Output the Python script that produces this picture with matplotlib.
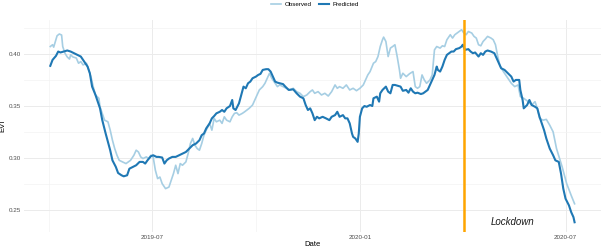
import numpy as np
import pandas as pd
import matplotlib
matplotlib.use("Agg")
import matplotlib.pyplot as plt
import matplotlib.dates as mdates
from matplotlib.ticker import MultipleLocator

plt.rcParams['font.family'] = ['Liberation Sans', 'DejaVu Sans']

START = "2019-04-01"
LOCKDOWN = "2020-04-02"

# days since START, EVI values
obs_day = [1, 3, 4, 7, 9, 11, 12, 14, 16, 18, 19, 21, 24, 26, 28, 30, 33, 35, 37, 39,
           41, 44, 45, 47, 49, 52, 54, 56, 58, 60, 62, 65, 68, 70, 72, 75, 77, 79, 81, 83,
           86, 88, 90, 92, 94, 96, 98, 100, 103, 106, 108, 110, 112, 114, 116, 118, 121, 123, 125, 127,
           129, 131, 133, 135, 137, 139, 142, 144, 146, 148, 151, 153, 155, 157, 160, 162, 164, 166, 168, 171,
           173, 175, 177, 180, 182, 184, 186, 189, 191, 193, 195, 197, 200, 202, 204, 207, 210, 213, 216, 219,
           222, 225, 228, 231, 233, 235, 238, 241, 244, 247, 250, 253, 255, 257, 260, 263, 266, 269, 272, 275,
           278, 280, 282, 284, 287, 289, 291, 293, 295, 296, 298, 300, 302, 304, 306, 308, 310, 311, 313, 316,
           319, 322, 324, 326, 328, 330, 332, 334, 337, 339, 341, 343, 346, 348, 350, 352, 355, 357, 359, 361,
           363, 365, 367, 369, 371, 374, 376, 378, 380, 382, 384, 386, 388, 391, 393, 395, 397, 399, 402, 404,
           406, 409, 412, 415, 417, 420, 422, 424, 427, 430, 432, 434, 437, 440, 443, 446, 449, 454, 458, 462,
           465]
obs_evi = [0.407, 0.4087, 0.4064, 0.4173, 0.419, 0.418, 0.407, 0.4006, 0.397, 0.395, 0.399, 0.397, 0.396, 0.391, 0.3926, 0.3894, 0.391, 0.3846, 0.378, 0.3686,
           0.3606, 0.3574, 0.3493, 0.343, 0.3365, 0.3349, 0.327, 0.3173, 0.3093, 0.3029, 0.298, 0.2964, 0.2949, 0.2964, 0.298, 0.3029, 0.3077, 0.306, 0.3013, 0.2997,
           0.3013, 0.2997, 0.3029, 0.3013, 0.2885, 0.2805, 0.282, 0.2757, 0.2709, 0.2724, 0.2788, 0.2853, 0.2933, 0.2853, 0.2949, 0.2933, 0.2965, 0.3045, 0.3141, 0.319,
           0.3125, 0.3093, 0.3077, 0.3141, 0.3221, 0.3269, 0.3334, 0.3269, 0.3382, 0.3349, 0.3365, 0.3334, 0.3397, 0.3365, 0.3349, 0.3397, 0.343, 0.3436, 0.3413, 0.343,
           0.3445, 0.3462, 0.3478, 0.351, 0.3558, 0.3606, 0.3654, 0.3686, 0.3718, 0.3766, 0.3814, 0.3766, 0.3718, 0.3686, 0.3702, 0.3686, 0.367, 0.3654, 0.367, 0.3638,
           0.3622, 0.359, 0.3606, 0.3638, 0.3654, 0.3622, 0.3638, 0.3606, 0.3622, 0.3596, 0.3638, 0.3702, 0.367, 0.3686, 0.367, 0.3702, 0.3654, 0.367, 0.3647, 0.367,
           0.3702, 0.375, 0.3798, 0.383, 0.391, 0.3926, 0.3974, 0.407, 0.4135, 0.416, 0.4118, 0.3974, 0.4055, 0.407, 0.4087, 0.3974, 0.3846, 0.3766, 0.3814, 0.3782,
           0.381, 0.383, 0.3686, 0.367, 0.3686, 0.3798, 0.375, 0.3718, 0.375, 0.3798, 0.4038, 0.407, 0.4055, 0.4077, 0.407, 0.4135, 0.4183, 0.4151, 0.4183, 0.4199,
           0.4214, 0.4231, 0.4199, 0.4183, 0.4214, 0.4199, 0.4167, 0.4151, 0.4087, 0.4077, 0.4118, 0.4141, 0.4167, 0.4151, 0.4135, 0.4087, 0.3974, 0.3885, 0.383, 0.3798,
           0.3766, 0.3718, 0.3686, 0.3702, 0.359, 0.3574, 0.3558, 0.3542, 0.351, 0.3542, 0.3478, 0.3382, 0.3365, 0.3372, 0.3317, 0.3253, 0.3093, 0.2917, 0.2757, 0.2644,
           0.2564]

pred_day = [1, 3, 6, 8, 10, 13, 16, 19, 22, 25, 28, 31, 34, 36, 38, 41, 43, 45, 47, 50,
            52, 54, 56, 59, 61, 64, 66, 69, 71, 74, 77, 80, 83, 85, 87, 90, 92, 95, 97, 100,
            102, 104, 106, 109, 112, 115, 118, 121, 124, 127, 130, 133, 135, 137, 139, 142, 144, 146, 148, 151,
            153, 155, 157, 160, 162, 163, 165, 168, 170, 172, 174, 176, 178, 180, 183, 185, 187, 189, 192, 194,
            196, 198, 200, 202, 204, 207, 209, 212, 216, 219, 222, 225, 227, 229, 231, 233, 235, 237, 239, 242,
            245, 248, 250, 253, 255, 257, 260, 262, 264, 266, 268, 269, 271, 273, 274, 275, 277, 279, 281, 284,
            286, 287, 290, 292, 293, 295, 298, 300, 302, 304, 306, 309, 311, 313, 316, 318, 320, 322, 324, 326,
            329, 331, 333, 335, 337, 339, 341, 343, 344, 346, 348, 350, 352, 354, 356, 358, 360, 363, 365, 366,
            368, 371, 373, 375, 377, 380, 382, 384, 386, 388, 391, 394, 396, 398, 400, 403, 406, 409, 411, 413,
            416, 417, 419, 420, 423, 425, 427, 430, 432, 434, 436, 438, 440, 443, 446, 448, 451, 453, 455, 457,
            460, 462, 464, 465]
pred_evi = [0.3885, 0.3942, 0.398, 0.4022, 0.4013, 0.4022, 0.4032, 0.4022, 0.4006, 0.399, 0.3974, 0.3926, 0.3878, 0.3814, 0.3686, 0.3606, 0.3542, 0.3478, 0.3365, 0.3237,
            0.3157, 0.3077, 0.298, 0.2917, 0.2859, 0.2837, 0.2827, 0.2837, 0.29, 0.2917, 0.2933, 0.2965, 0.2965, 0.2949, 0.298, 0.3019, 0.3029, 0.3013, 0.3013, 0.3007,
            0.2949, 0.298, 0.2997, 0.3013, 0.3013, 0.3029, 0.3045, 0.306, 0.3093, 0.3125, 0.3141, 0.3173, 0.3221, 0.3237, 0.3286, 0.3334, 0.3382, 0.3404, 0.343, 0.3445,
            0.3462, 0.3445, 0.3478, 0.35, 0.3558, 0.3478, 0.3462, 0.3526, 0.3606, 0.3686, 0.367, 0.3718, 0.3734, 0.3766, 0.3782, 0.3798, 0.3808, 0.3846, 0.3853, 0.3853,
            0.383, 0.3782, 0.3734, 0.3724, 0.3718, 0.371, 0.3686, 0.3654, 0.366, 0.3622, 0.359, 0.3574, 0.351, 0.3462, 0.3478, 0.343, 0.3365, 0.3397, 0.3382, 0.3397,
            0.3382, 0.3365, 0.3397, 0.3413, 0.3445, 0.3397, 0.3413, 0.3382, 0.3382, 0.3334, 0.3237, 0.3205, 0.3189, 0.3157, 0.3237, 0.3397, 0.3478, 0.35, 0.3493, 0.351,
            0.35, 0.3574, 0.359, 0.3542, 0.3622, 0.3654, 0.3686, 0.3638, 0.3622, 0.3702, 0.3702, 0.3692, 0.3686, 0.3646, 0.3654, 0.3628, 0.367, 0.3638, 0.3622, 0.3628,
            0.3615, 0.3622, 0.3638, 0.3654, 0.3702, 0.375, 0.3798, 0.3878, 0.3846, 0.383, 0.3878, 0.3942, 0.399, 0.4006, 0.4022, 0.4022, 0.4045, 0.4055, 0.407, 0.4087,
            0.4038, 0.4045, 0.4022, 0.4006, 0.4013, 0.3974, 0.4006, 0.399, 0.4022, 0.4032, 0.4022, 0.4006, 0.3958, 0.391, 0.3862, 0.3846, 0.3814, 0.3782, 0.3734, 0.375,
            0.375, 0.3654, 0.3558, 0.3478, 0.351, 0.3558, 0.351, 0.3493, 0.3478, 0.3397, 0.3334, 0.3269, 0.3189, 0.3093, 0.3029, 0.298, 0.2965, 0.2853, 0.2709, 0.2613,
            0.2549, 0.2484, 0.2436, 0.2387]

start = pd.Timestamp(START)
obs_dates = start + pd.to_timedelta(obs_day, unit="D")
pred_dates = start + pd.to_timedelta(pred_day, unit="D")

fig = plt.figure(figsize=(6.02, 2.48), dpi=100)
ax = fig.add_axes([0.04, 0.065, 0.958, 0.854])

ax.plot(obs_dates, obs_evi, color="#a6cee3", lw=1.2, label="Observed")
ax.plot(pred_dates, pred_evi, color="#1f78b4", lw=1.5, label="Predicted")
ax.margins(x=0.05, y=0.05)
ax.axvline(pd.Timestamp(LOCKDOWN), color="#FFA500", lw=1.8)
ax.text(pd.Timestamp("2020-05-15"), 0.2394, "Lockdown", style="italic", fontsize=7,
        ha="center", va="center", color="#1a1a1a")

ax.xaxis.set_major_locator(mdates.MonthLocator(bymonth=[1, 7]))
ax.xaxis.set_minor_locator(mdates.MonthLocator(bymonth=[4, 10]))
ax.xaxis.set_major_formatter(mdates.DateFormatter("%Y-%m"))
ax.yaxis.set_major_locator(MultipleLocator(0.05))
ax.yaxis.set_minor_locator(MultipleLocator(0.025))
ax.yaxis.set_major_formatter(plt.FuncFormatter(lambda v, p: f"{v:.2f}"))

ax.grid(which="major", color="#ebebeb", lw=0.7)
ax.grid(which="minor", color="#f3f3f3", lw=0.5)
ax.set_axisbelow(True)
for s in ax.spines.values():
    s.set_visible(False)
ax.tick_params(which="both", length=0, labelsize=4.5, labelcolor="#4d4d4d", pad=2)
ax.set_xlabel("Date", fontsize=5.5, labelpad=1)
ax.set_ylabel("EVI", fontsize=5.5, labelpad=2)

fig.legend(loc="upper center", bbox_to_anchor=(0.523, 1.015), ncol=2, frameon=False,
           fontsize=4.5, handlelength=1.6, columnspacing=1.2, handletextpad=0.5)

fig.savefig("out.png", dpi=100)
